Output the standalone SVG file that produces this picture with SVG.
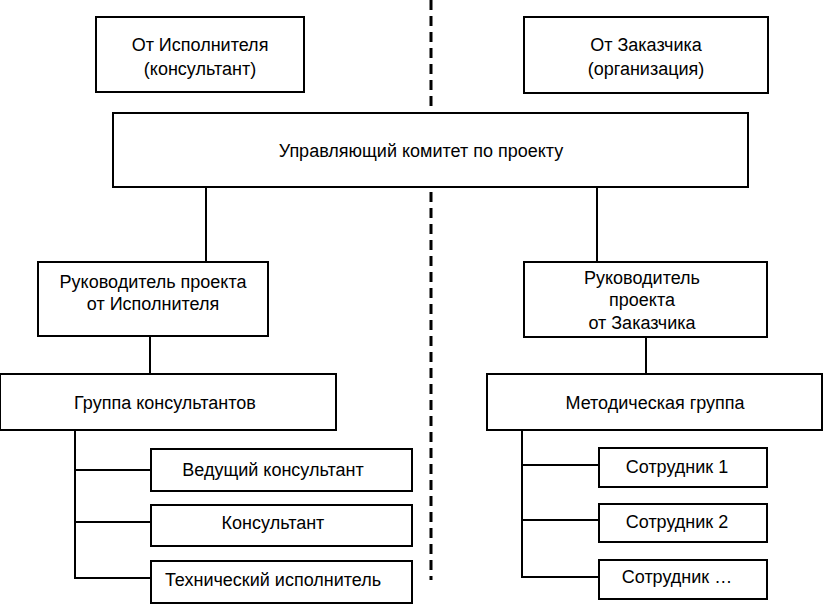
<svg xmlns="http://www.w3.org/2000/svg" width="824" height="604" viewBox="0 0 824 604">
<style>
.b{fill:#fff;stroke:#000;stroke-width:2}
.c line{stroke:#000;stroke-width:2}
text{font-family:"Liberation Sans",Arial,sans-serif;font-size:18px;text-anchor:middle;fill:#000}
</style>
<rect width="824" height="604" fill="#fff"/>
<g class="c" id="connectors">
<line x1="431" y1="0" x2="431" y2="580" stroke-dasharray="10,6" style="stroke-width:3"/>
<line x1="206" y1="187" x2="206" y2="262"/>
<line x1="597" y1="187" x2="597" y2="262"/>
<line x1="150" y1="336" x2="150" y2="374"/>
<line x1="646" y1="337" x2="646" y2="374"/>
<line x1="75" y1="430" x2="75" y2="579"/>
<line x1="74" y1="470" x2="151" y2="470"/>
<line x1="74" y1="522" x2="151" y2="522"/>
<line x1="74" y1="578" x2="151" y2="578"/>
<line x1="522" y1="430" x2="522" y2="578"/>
<line x1="521" y1="465" x2="599" y2="465"/>
<line x1="521" y1="520" x2="599" y2="520"/>
<line x1="521" y1="577" x2="599" y2="577"/>
</g>
<g id="n1"><rect class="b" x="96" y="17" width="208" height="75"/><text x="200" y="51">От Исполнителя</text><text x="200" y="75">(консультант)</text></g>
<g id="n2"><rect class="b" x="524" y="17" width="244" height="76"/><text x="646" y="51">От Заказчика</text><text x="646" y="75">(организация)</text></g>
<g id="n3"><rect class="b" x="113" y="113" width="635" height="74"/><text x="421" y="157">Управляющий комитет по проекту</text></g>
<g id="n4"><rect class="b" x="38" y="262" width="230" height="74"/><text x="153" y="288">Руководитель проекта</text><text x="153" y="310">от Исполнителя</text></g>
<g id="n5"><rect class="b" x="524" y="262" width="243" height="75"/><text x="642" y="284">Руководитель</text><text x="642" y="306">проекта</text><text x="642" y="329">от Заказчика</text></g>
<g id="n6"><rect class="b" x="0" y="374" width="336" height="56"/><text x="165" y="409">Группа консультантов</text></g>
<g id="n7"><rect class="b" x="487" y="374" width="335" height="56"/><text x="655" y="409">Методическая группа</text></g>
<g id="n8"><rect class="b" x="151" y="449" width="261" height="42"/><text x="273" y="476">Ведущий консультант</text></g>
<g id="n9"><rect class="b" x="151" y="505" width="261" height="41"/><text x="273" y="529">Консультант</text></g>
<g id="n10"><rect class="b" x="151" y="561" width="261" height="42"/><text x="273" y="586">Технический исполнитель</text></g>
<g id="n11"><rect class="b" x="599" y="448" width="168" height="39"/><text x="677" y="473">Сотрудник 1</text></g>
<g id="n12"><rect class="b" x="599" y="504" width="168" height="38"/><text x="677" y="528">Сотрудник 2</text></g>
<g id="n13"><rect class="b" x="599" y="560" width="168" height="39"/><text x="677" y="583">Сотрудник …</text></g>
</svg>
